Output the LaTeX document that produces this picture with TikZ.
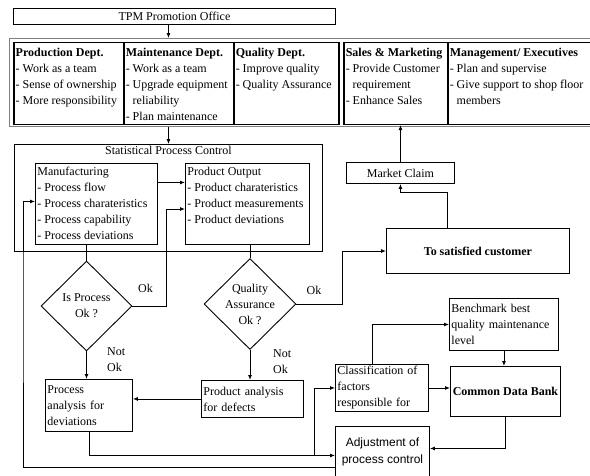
\documentclass[tikz,border=0pt]{standalone}
\usepackage{fontspec}
\setmainfont{Liberation Serif}
\newfontfamily\arialfont{Liberation Sans}
\usetikzlibrary{shapes.geometric,arrows.meta}

\begin{document}
\begin{tikzpicture}[x=1pt, y=-1pt,
        font=\fontsize{12}{16}\selectfont,
        box/.style={draw, line width=0.9pt, inner sep=2pt, anchor=north west},
        dept/.style={draw, line width=1.5pt, anchor=north west, inner xsep=2pt, inner ysep=5.5pt},
        dec/.style={diamond, draw, line width=0.9pt, inner sep=0pt, aspect=1, align=center},
        lbl/.style={inner sep=0pt, align=left},
        ln/.style={draw, line width=0.9pt},
        arr/.style={ln, -{Latex[length=5pt,width=4pt]}}
    ]
    \useasboundingbox (0,0) rectangle (590,475);

    \node[box, minimum width=322, minimum height=16, inner sep=0pt] (tpm) at (13,8) {TPM Promotion Office};

    % departments
    \node[draw=gray, line width=1.2pt, anchor=north west, minimum width=590, minimum height=88] (band) at (9,38) {};
    \node[dept] (prod) at (13,41.5) {\parbox[t][71pt][t]{106pt}{\raggedright\textbf{Production Dept.}\\- Work as a team\\- Sense of ownership\\- More responsibility}};
    \node[dept] (mnt) at (123,41.5) {\parbox[t][71pt][t]{106pt}{\raggedright\textbf{Maintenance Dept.}\\- Work as a team\\- Upgrade equipment\\\phantom{- }reliability\\- Plan maintenance}};
    \node[dept] (qd) at (233,41.5) {\parbox[t][71pt][t]{101pt}{\raggedright\textbf{Quality Dept.}\\- Improve quality\\- Quality Assurance}};
    \node[dept] (sm) at (343,41.5) {\parbox[t][71pt][t]{100pt}{\raggedright\textbf{Sales \& Marketing}\\- Provide Customer\\\phantom{- }requirement\\- Enhance Sales}};
    \node[dept] (mgt) at (447,41.5) {\parbox[t][71pt][t]{142pt}{\raggedright\textbf{Management/ Executives}\\- Plan and supervise\\- Give support to shop floor\\\phantom{- }members}};

    % statistical process control
    \node[box, minimum width=308, minimum height=107] (spc) at (14,144) {};
    \node[anchor=north, inner sep=2pt] (spct) at (spc.north) {Statistical Process Control};
    \node[box, inner ysep=4pt] (mfg) at (35,163) {\parbox[t][73pt][t]{118pt}{\raggedright Manufacturing\\- Process flow\\- Process charateristics\\- Process capability\\- Process deviations}};
    \node[box, inner ysep=4pt] (po) at (185,163) {\parbox[t][73pt][t]{120pt}{\raggedright Product Output\\- Product charateristics\\- Product measurements\\- Product deviations}};

    \node[dec, minimum width=91, minimum height=90] (ip) at (86.5,306) {Is Process\\Ok ?};
    \node[dec, minimum width=92, minimum height=91] (qa) at (250,304) {Quality\\Assurance\\Ok ?};

    \node[box, minimum width=87, minimum height=52, text width=83, align=left] (pa) at (45,379) {Process\\analysis for\\deviations};
    \node[box, minimum width=102, minimum height=37, text width=98, align=left] (pd) at (201,380) {Product analysis\\for defects};

    \node[box, minimum width=108, minimum height=21, inner sep=0pt] (mc) at (346,162) {Market Claim};
    \node[box, minimum width=183, minimum height=45, font=\fontsize{12}{16}\selectfont\bfseries] (sat) at (386,228) {To satisfied customer};

    \node[box, minimum width=93, minimum height=47, text width=89, align=left] (cls) at (335,364) {Classification of\\factors\\responsible for};
    \node[box, minimum width=109, minimum height=52, text width=105, align=left] (bm) at (449,298) {Benchmark best\\quality maintenance\\level};
    \node[box, minimum width=110, minimum height=50, font=\fontsize{12}{16}\selectfont\bfseries] (cdb) at (450,366) {Common Data Bank};
    \node[box, minimum width=94, minimum height=51, align=center, font=\arialfont\fontsize{12}{17}\selectfont] (adj) at (335,426) {Adjustment of\\process control};

    \node[lbl] (ok1) at (145.5,288) {Ok};
    \node[lbl] (ok2) at (314,290) {Ok};
    \node[lbl, anchor=north west] (no1) at (107,347) {Not\\Ok};
    \node[lbl, anchor=north west] (no2) at (273,349) {Not\\Ok};

    \coordinate (okA) at (166,209);
    \coordinate (okB) at (342,251);
    \coordinate (c1) at (447,192);
    \coordinate (c2) at (314,455);
    \coordinate (fb) at (23,300);

    \draw[arr] (tpm.south -| spc.north) -- (band.north -| spc.north);
    \draw[arr] (band.south -| spc.north) -- (spc.north);
    \draw[arr] ([yshift=21.5]mfg.east) -- ([yshift=21.5]po.west);
    \draw[ln] (ip.north) -- (ip.north |- mfg.south);
    \draw[ln] (qa.north) -- (qa.north |- po.south);
    \draw[arr] (ip.east) -| (okA) -- (okA -| po.west);
    \draw[arr] (qa.east) -| (okB) -- (okB -| sat.west);
    \draw[arr] (c1 |- sat.north) -- (c1) -| (mc.south);
    \draw[arr] (mc.north) -- (mc.north |- sm.south);
    \draw[arr] (ip.south) -- (ip.south |- pa.north);
    \draw[arr] (qa.south) -- (qa.south |- pd.north);
    \draw[arr] (pd.west) -- (pd.west -| pa.east);
    \draw[arr] (pa.south) |- ([yshift=-3.5]adj.west);
    \draw[arr] (c2) |- (cls.west);
    \draw[arr] ([yshift=-15.5]adj.west) -| (fb) |- ([yshift=2.5]mfg.west);
    \draw[arr] ([xshift=-9.5]cls.north) |- (bm.west);
    \draw[arr] (cls.east) -- (cls.east -| cdb.west);
    \draw[arr] (bm.south) -- (bm.south |- cdb.north);
    \draw[arr] (cdb.south) |- ([yshift=3.5]adj.east);
\end{tikzpicture}
\end{document}
